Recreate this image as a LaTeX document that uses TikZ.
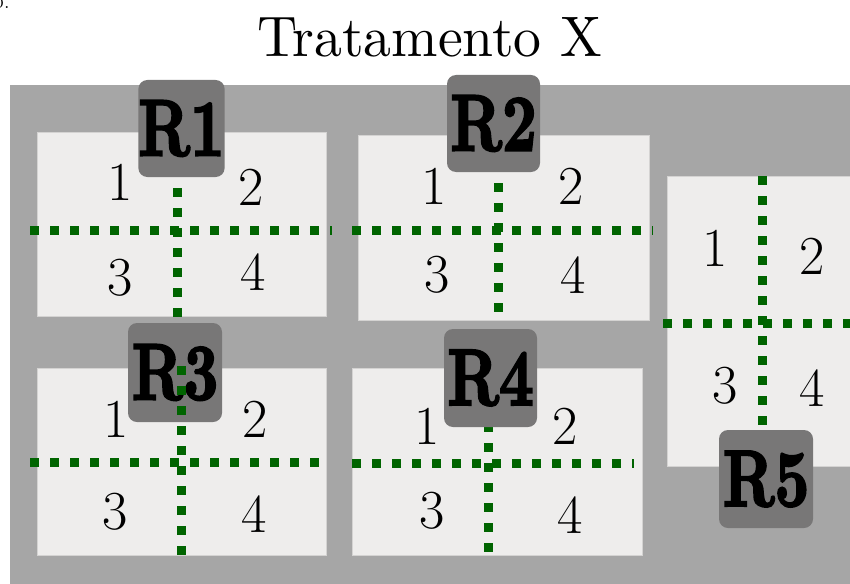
\documentclass[tikz,border=0pt]{standalone}
\usepackage{graphicx}
\definecolor{bggray}{HTML}{A6A6A6}
\definecolor{plotfill}{HTML}{EEEDEC}
\definecolor{plotedge}{HTML}{D4D3D2}
\definecolor{repfill}{HTML}{787777}
\definecolor{divgreen}{HTML}{006400}
\font\repfnt="[lmroman10-bold.otf]:embolden=3" at 60pt
\newcommand\replbl[1]{\scalebox{1}[1.33]{\repfnt #1}}
\tikzset{
  plotbox/.style={fill=plotfill, draw=plotedge, line width=0.8pt},
  divline/.style={draw=divgreen, line width=9pt, dash pattern=on 9pt off 11pt},
  repbox/.style={fill=repfill, rounded corners=9pt, inner sep=0pt},
  digit/.style={inner sep=0pt, font=\fontsize{55}{60}\selectfont},
}
\begin{document}
\begin{tikzpicture}[x=1pt,y=-1pt]
\useasboundingbox (0,0) rectangle (850,583);
% clipped fragment of a subfigure label
\node[inner sep=0pt, anchor=base east, font=\fontsize{24}{28}\selectfont] (lbl) at (10,8.5) {b.};
% title
\node[inner sep=0pt, anchor=base] (title) at (429.5,57) {\resizebox{345pt}{39pt}{Tratamento X}};
% background field
\fill[bggray] (10,85) rectangle (856,590);
% plots
\draw[plotbox] (37,132) rectangle (326,316);
\draw[plotbox] (358,135) rectangle (649,320);
\draw[plotbox] (37,368) rectangle (326,555);
\draw[plotbox] (352,368) rectangle (642,555);
\draw[plotbox] (667,176) rectangle (860,466);
% division line end points
\coordinate (h1a) at (30,230);  \coordinate (h1b) at (332,230);
\coordinate (v1a) at (177,188); \coordinate (v1b) at (177,322);
\coordinate (h2a) at (352,230); \coordinate (h2b) at (653,230);
\coordinate (v2a) at (498,183); \coordinate (v2b) at (498,318);
\coordinate (h3a) at (30,462);  \coordinate (h3b) at (328,462);
\coordinate (v3a) at (181,366); \coordinate (v3b) at (181,562);
\coordinate (h4a) at (352,463); \coordinate (h4b) at (634,463);
\coordinate (v4a) at (488,423); \coordinate (v4b) at (488,556);
\coordinate (h5a) at (663,323); \coordinate (h5b) at (858,323);
\coordinate (v5a) at (762,176); \coordinate (v5b) at (762,432);
% division lines (drawn under the labels, except plot 3)
\draw[divline] (h1a) -- (h1b);
\draw[divline] (v1a) -- (v1b);
\draw[divline] (h2a) -- (h2b);
\draw[divline] (v2a) -- (v2b);
\draw[divline] (h4a) -- (h4b);
\draw[divline] (v4a) -- (v4b);
\draw[divline] (h5a) -- (h5b);
\draw[divline] (v5a) -- (v5b);
% repetition labels
\node[repbox, minimum width=83pt, minimum height=97pt] (r1) at (181.5,128.5) {\replbl{R1}};
\node[repbox, minimum width=93pt, minimum height=97pt] (r2) at (493.5,123.5) {\replbl{R2}};
\node[repbox, minimum width=94pt, minimum height=99pt] (r3) at (175,372.5) {\replbl{R3}};
\node[repbox, minimum width=93pt, minimum height=98pt] (r4) at (490.5,378) {\replbl{R4}};
\node[repbox, minimum width=94pt, minimum height=98pt] (r5) at (766,479) {\replbl{R5}};
% plot 3 lines drawn over its label
\draw[divline] (h3a) -- (h3b);
\draw[divline] (v3a) -- (v3b);
% subplot numbers
\node[digit] (p1n1) at (120,182) {1};
\node[digit] (p1n2) at (251,187) {2};
\node[digit] (p1n3) at (120,278) {3};
\node[digit] (p1n4) at (253,272) {4};
\node[digit] (p2n1) at (434,186) {1};
\node[digit] (p2n2) at (571,186) {2};
\node[digit] (p2n3) at (437,275) {3};
\node[digit] (p2n4) at (573,275) {4};
\node[digit] (p3n1) at (116,419) {1};
\node[digit] (p3n2) at (255,419) {2};
\node[digit] (p3n3) at (115,512) {3};
\node[digit] (p3n4) at (254,514) {4};
\node[digit] (p4n1) at (427,426) {1};
\node[digit] (p4n2) at (565,426) {2};
\node[digit] (p4n3) at (432,511) {3};
\node[digit] (p4n4) at (570,515) {4};
\node[digit] (p5n1) at (715,248) {1};
\node[digit] (p5n2) at (812,256) {2};
\node[digit] (p5n3) at (725,386) {3};
\node[digit] (p5n4) at (812,388) {4};
\end{tikzpicture}
\end{document}
